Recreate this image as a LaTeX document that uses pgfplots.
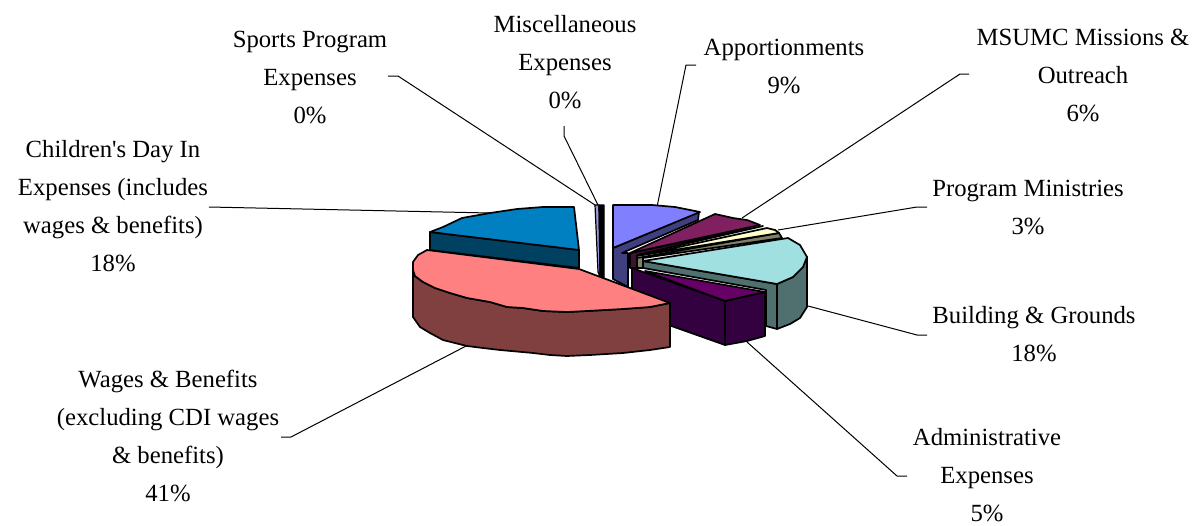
\documentclass[border=0pt]{standalone}
\usepackage{pgfplots}
\pgfplotsset{compat=1.18}
\usepackage{fontspec}
\setmainfont{Liberation Serif}
\newfontfamily\plainfont{Liberation Serif}
\definecolor{aT}{HTML}{8080FF}\definecolor{aS}{HTML}{404080}
\definecolor{mT}{HTML}{802060}\definecolor{mS}{HTML}{401030}
\definecolor{pT}{HTML}{FFFFCC}\definecolor{pS}{HTML}{808066}
\definecolor{bT}{HTML}{A0E0E0}\definecolor{bS}{HTML}{507070}
\definecolor{dT}{HTML}{660066}\definecolor{dS}{HTML}{330040}
\definecolor{wT}{HTML}{FF8080}\definecolor{wS}{HTML}{804040}
\definecolor{cT}{HTML}{0080C0}\definecolor{cS}{HTML}{004060}
\definecolor{sT}{HTML}{9999DD}
\begin{document}
\begin{tikzpicture}
\path[use as bounding box] (0,0) rectangle (1198pt,525pt);
\begin{axis}[
  width=1198pt,height=525pt,scale only axis,
  xmin=0,xmax=1198,ymin=0,ymax=525,y dir=reverse,
  axis lines=none,clip=true,
  every axis plot/.append style={line join=round},
]
% leader lines
\addplot[black,line width=1pt,no marks] coordinates {(388,76)(398,76)(595,205)};
\addplot[black,line width=1pt,no marks] coordinates {(564,126)(564,136)(598,205)};
\addplot[black,line width=1pt,no marks] coordinates {(696,65)(686,65)(657,207)};
\addplot[black,line width=1pt,no marks] coordinates {(969,74)(960,74)(742,218)};
\addplot[black,line width=1pt,no marks] coordinates {(927,207)(917,207)(778,230)};
\addplot[black,line width=1pt,no marks] coordinates {(927,335)(917,335)(808,306)};
\addplot[black,line width=1pt,no marks] coordinates {(907,476)(897,476)(747,342)};
\addplot[black,line width=1pt,no marks] coordinates {(281,437)(291,437)(468,345)};
\addplot[black,line width=1pt,no marks] coordinates {(209,207)(490,213)};
% Sports / Misc
\addplot[fill=sT,draw=black,line width=1.2pt] coordinates {(595,205)(599,205)(600,277)(598,272)} --cycle;
\addplot[fill=black,draw=black,line width=1.2pt] coordinates {(599,205)(604,205)(604,278)(600,277)} --cycle;
% Apportionments
\addplot[fill=aS,draw=black,line width=1.7pt] coordinates {(613,248)(699,212)(698,220)(622,253)(628,253)(628,287)(613,279)} --cycle;
\addplot[fill=aT,draw=black,line width=1.7pt] coordinates {(613,205)(652,205)(675,207)(700,212)(613,248)} --cycle;
% MSUMC
\addplot[fill=mS,draw=black,line width=1.7pt] coordinates {(630,253)(763,226)(637,255)(637,268)(630,268)} --cycle;
\addplot[fill=mT,draw=black,line width=1.7pt] coordinates {(630,253)(715,214)(733,218)(747,220)(760,225)} --cycle;
% Program Ministries
\addplot[fill=pS,draw=black,line width=1.7pt] coordinates {(637,258)(779,233)(782,238)(643,258)(643,268)(637,268)} --cycle;
\addplot[fill=pT,draw=black,line width=1.7pt] coordinates {(637,256)(767,228)(775,230)(779,233)} --cycle;
% Building
\addplot[fill=bS,draw=black,line width=1.7pt] coordinates {(643,261)(777,284)(777,329)(766,326)(766,290)(643,268)} --cycle;
\addplot[fill=bS,draw=black,line width=1.7pt] coordinates {(777,284)(793,277)(803,267)(807,257)(807,307)(800,318)(790,324)(777,329)} --cycle;
\addplot[fill=bT,draw=black,line width=1.7pt] coordinates {(643,261)(788,238)(800,245)(807,257)(803,267)(793,277)(777,284)} --cycle;
% Administrative
\addplot[fill=dS,draw=black,line width=1.7pt] coordinates {(632,268)(725,301)(725,345)(632,312)} --cycle;
\addplot[fill=dS,draw=black,line width=1.7pt] coordinates {(725,301)(765,292)(765,336)(747,341)(725,345)} --cycle;
\addplot[fill=dT,draw=black,line width=1.7pt] coordinates {(645,271)(765,292)(747,296)(725,301)} --cycle;
% Children's Day In
\addplot[fill=cS,draw=black,line width=1.7pt] coordinates {(430,232)(579,250)(579,268)(430,250)} --cycle;
\addplot[fill=cT,draw=black,line width=1.7pt] coordinates {(574,207)(543,207)(517,209)(490,213)(462,218)(443,227)(430,232)(579,250)} --cycle;
% Wages
\addplot[fill=wS,draw=black,line width=1.7pt] coordinates {(413,270)(415,276)(423,282)(435,288)(450,293)(467,298)(490,302)(507,307)(523,308)(543,311)(567,312)(587,311)(623,309)(650,307)(670,303)(670,347)(650,350)(623,353)(590,355)(567,356)(550,355)(533,353)(500,350)(483,348)(467,346)(443,340)(430,333)(420,327)(413,317)} --cycle;
\addplot[fill=wT,draw=black,line width=1.7pt] coordinates {(427,250)(579,269)(670,303)(650,307)(623,309)(587,311)(567,312)(543,311)(523,308)(507,307)(490,302)(467,298)(450,293)(435,288)(423,282)(415,276)(413,270)(413,262)(418,255)} --cycle;
% labels
\tikzset{lab/.style={font=\fontsize{24.7}{38}\selectfont,align=center,anchor=center,inner sep=0pt}}
\node[lab] at (axis cs:310,77) {Sports Program\\Expenses\\0\%};
\node[lab] at (axis cs:565,62) {Miscellaneous\\Expenses\\0\%};
\node[lab] at (axis cs:784,66) {Apportionments\\9\%};
\node[lab] at (axis cs:1083,75) {MSUMC Missions \&\\Outreach\\6\%};
\node[lab] at (axis cs:1028,207) {Program Ministries\\3\%};
\node[lab] at (axis cs:1034,334) {Building \& Grounds\\18\%};
\node[lab] at (axis cs:987,475) {Administrative\\Expenses\\5\%};
\node[lab] at (axis cs:168,436) {Wages \& Benefits\\(excluding CDI wages\\\& benefits)\\41\%};
\node[lab] at (axis cs:113,206) {Children{\plainfont'}s Day In\\Expenses (includes\\wages \& benefits)\\18\%};
\end{axis}
\end{tikzpicture}
\end{document}
